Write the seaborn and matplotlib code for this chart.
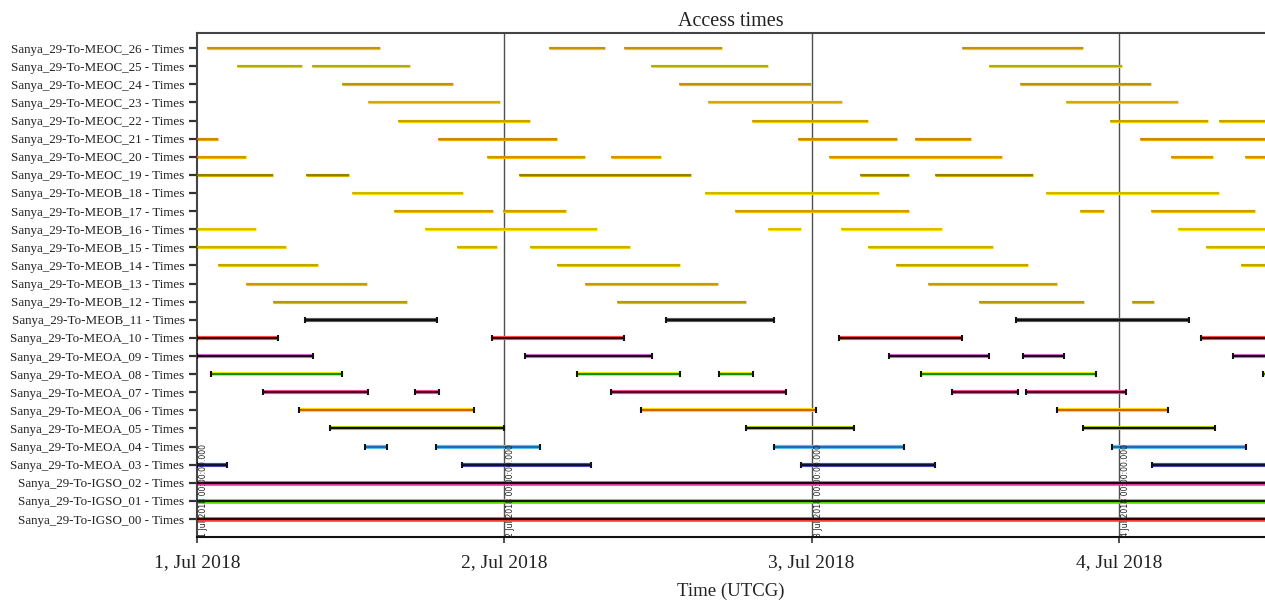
import matplotlib
matplotlib.use("Agg")
import matplotlib.pyplot as plt
import pandas as pd
import seaborn as sns

# ---------------- data (hours since 1 Jul 2018 00:00 UTCG) ----------------
rows = ["Sanya_29-To-IGSO_00 - Times", "Sanya_29-To-IGSO_01 - Times", "Sanya_29-To-IGSO_02 - Times",
        "Sanya_29-To-MEOA_03 - Times", "Sanya_29-To-MEOA_04 - Times", "Sanya_29-To-MEOA_05 - Times",
        "Sanya_29-To-MEOA_06 - Times", "Sanya_29-To-MEOA_07 - Times", "Sanya_29-To-MEOA_08 - Times",
        "Sanya_29-To-MEOA_09 - Times", "Sanya_29-To-MEOA_10 - Times", "Sanya_29-To-MEOB_11 - Times",
        "Sanya_29-To-MEOB_12 - Times", "Sanya_29-To-MEOB_13 - Times", "Sanya_29-To-MEOB_14 - Times",
        "Sanya_29-To-MEOB_15 - Times", "Sanya_29-To-MEOB_16 - Times", "Sanya_29-To-MEOB_17 - Times",
        "Sanya_29-To-MEOB_18 - Times", "Sanya_29-To-MEOC_19 - Times", "Sanya_29-To-MEOC_20 - Times",
        "Sanya_29-To-MEOC_21 - Times", "Sanya_29-To-MEOC_22 - Times", "Sanya_29-To-MEOC_23 - Times",
        "Sanya_29-To-MEOC_24 - Times", "Sanya_29-To-MEOC_25 - Times", "Sanya_29-To-MEOC_26 - Times"]

igso_00 = [(0, 86)]
igso_01 = [(0, 86)]
igso_02 = [(0, 86)]
meoa_03 = [(0, 2.34), (20.69, 30.77), (47.17, 57.63), (74.58, 86)]
meoa_04 = [(13.12, 14.84), (18.66, 26.79), (45.06, 55.21), (71.46, 81.92)]
meoa_05 = [(10.39, 23.97), (42.87, 51.31), (69.19, 79.50)]
meoa_06 = [(7.97, 21.63), (34.67, 48.34), (67.16, 75.83)]
meoa_07 = [(5.15, 13.35), (17.02, 18.90), (32.33, 46.00), (58.96, 64.12), (64.74, 72.55)]
meoa_08 = [(1.09, 11.32), (29.68, 37.72), (40.77, 43.42), (56.54, 70.21), (83.25, 86)]
meoa_09 = [(0, 9.06), (25.61, 35.53), (54.04, 61.85), (64.51, 67.71), (80.91, 86)]
meoa_10 = [(0, 6.33), (23.04, 33.35), (50.14, 59.74), (78.41, 86)]
meob_11 = [(8.43, 18.74), (36.63, 45.06), (63.96, 77.47)]
meob_12 = [(5.94, 16.40), (32.80, 42.87), (61.07, 69.27), (73.02, 74.74)]
meob_13 = [(3.83, 13.28), (30.30, 40.69), (57.09, 67.16)]
meob_14 = [(1.64, 9.45), (28.11, 37.72), (54.59, 64.90), (81.53, 86)]
meob_15 = [(0, 6.95), (20.30, 23.43), (26.00, 33.81), (52.40, 62.16), (78.80, 86)]
meob_16 = [(0, 4.61), (17.81, 31.24), (44.59, 47.17), (50.29, 58.18), (76.61, 86)]
meob_17 = [(15.38, 23.12), (23.90, 28.82), (42.01, 55.60), (68.96, 70.83), (74.50, 82.62)]
meob_18 = [(12.10, 20.77), (39.67, 53.26), (66.30, 79.81)]
meoc_19 = [(0, 5.93), (8.51, 11.87), (25.15, 38.58), (51.78, 55.60), (57.63, 65.29)]
meoc_20 = [(0, 3.83), (22.65, 30.30), (32.33, 36.24), (49.36, 62.86), (76.06, 79.34), (81.84, 86)]
meoc_21 = [(0, 1.64), (18.82, 28.11), (46.93, 54.67), (56.07, 60.45), (73.64, 86)]
meoc_22 = [(15.70, 26.00), (43.34, 52.40), (71.30, 78.95), (79.81, 86)]
meoc_23 = [(13.35, 23.66), (39.91, 50.37), (67.86, 76.61)]
meoc_24 = [(11.32, 19.99), (37.64, 47.95), (64.27, 74.50)]
meoc_25 = [(3.12, 8.20), (8.98, 16.63), (35.45, 44.59), (61.85, 72.24)]
meoc_26 = [(0.78, 14.29), (27.49, 31.86), (33.35, 41.00), (59.74, 69.19)]

segments = [igso_00, igso_01, igso_02, meoa_03, meoa_04, meoa_05, meoa_06, meoa_07, meoa_08,
            meoa_09, meoa_10, meob_11, meob_12, meob_13, meob_14, meob_15, meob_16, meob_17,
            meob_18, meoc_19, meoc_20, meoc_21, meoc_22, meoc_23, meoc_24, meoc_25, meoc_26]

day_ticks = [0, 24, 48, 72]
day_labels = ["1, Jul 2018", "2, Jul 2018", "3, Jul 2018", "4, Jul 2018"]
stamp_labels = ["1 Jul 2018 00:00:00.000", "2 Jul 2018 00:00:00.000",
                "3 Jul 2018 00:00:00.000", "4 Jul 2018 00:00:00.000"]

# outer (halo) and inner (core) colours per row, bottom to top
halo = ["#ff3a3a", "#50e000", "#e040a0", "#4050c0", "#60c0f0", "#b0d000", "#ffe000",
        "#f050a0", "#e8f000", "#d070d0", "#ff5050", "#606060",
        "#d8c000", "#e8c000", "#e8c800", "#f0d000", "#f8e000", "#f0c000", "#f0d800",
        "#d0b000", "#f0b800", "#e8a800", "#f0c800", "#f0d000", "#e8b800", "#e0e000", "#e8c800"]
core = ["#300000", "#102000", "#200010", "#101030", "#1870b0", "#101000", "#d06000",
        "#500018", "#109010", "#200020", "#3a0000", "#101010",
        "#a89000", "#c09000", "#b89800", "#c8a000", "#d0b000", "#c89000", "#c8a800",
        "#8c7000", "#c88800", "#c08000", "#c09000", "#c8a000", "#b88a00", "#a0a000", "#b08800"]

# ---------------- build long table ----------------
recs = []
for i, (name, segs) in enumerate(zip(rows, segments)):
    grp = "igso" if "IGSO" in name else ("cap" if ("MEOA" in name or "MEOB_11" in name) else "thin")
    for j, (s, e) in enumerate(segs):
        for t in (s, e):
            recs.append({"row": name, "y": i, "t": t, "seg": f"{i}_{j}", "grp": grp})
df = pd.DataFrame(recs)

halo_pal = dict(zip(rows, halo))
core_pal = dict(zip(rows, core))

sns.set_theme(style="white")
plt.rcParams["font.family"] = ["Liberation Serif", "DejaVu Serif"]

fig = plt.figure(figsize=(12.65, 6.01), dpi=100)
ax = fig.add_axes([197 / 1265, 1 - 537 / 601, 1 - 197 / 1265, (537 - 33) / 601])

for d in day_ticks[1:]:
    ax.axvline(d, color="#505050", lw=1.0, zorder=1)

widths = {"thin": (2.3, 1.1), "cap": (3.0, 1.5), "igso": (3.3, 1.5)}
for grp, (wh, wc) in widths.items():
    sub = df[df["grp"] == grp]
    present = set(sub["row"])
    sns.lineplot(data=sub, x="t", y="y", hue="row", units="seg", estimator=None, sort=False,
                 palette={k: v for k, v in halo_pal.items() if k in present},
                 linewidth=wh, legend=False, ax=ax, zorder=2, solid_capstyle="butt")
    n_before = len(ax.lines)
    extra = dict(marker="|", markersize=5, markeredgewidth=1.5) if grp == "cap" else {}
    sns.lineplot(data=sub, x="t", y="y", hue="row", units="seg", estimator=None, sort=False,
                 palette={k: v for k, v in core_pal.items() if k in present},
                 linewidth=wc, legend=False, ax=ax, zorder=3, solid_capstyle="butt", **extra)
    if grp == "cap":
        for ln in ax.lines[n_before:]:
            ln.set_markeredgecolor("#111111")

for d, lab in zip(day_ticks, stamp_labels):
    ax.text(d + 0.15, -0.97, lab, rotation=90, fontsize=5.6, va="bottom", ha="left",
            family="DejaVu Sans", color="#222222", zorder=4)

ax.set_xlim(0, 83.4)
ax.set_ylim(-0.99, 26.83)
ax.set_yticks(range(len(rows)))
ax.set_yticklabels(rows, fontsize=9.4, color="#222222")
ax.set_xticks(day_ticks)
ax.set_xticklabels(day_labels, fontsize=14, color="#222222")
ax.tick_params(axis="y", which="both", left=True, length=6, width=1.6, color="#333333", pad=3)
ax.tick_params(axis="x", which="both", bottom=True, length=4, width=1.2, color="#333333", pad=8)
ax.set_xlabel("Time (UTCG)", fontsize=13.5, color="#222222", labelpad=9)
ax.set_ylabel("")
ax.set_title("Access times", fontsize=14.5, color="#222222", pad=5)

for side in ["left", "top", "bottom"]:
    ax.spines[side].set_visible(True)
    ax.spines[side].set_color("#444444")
    ax.spines[side].set_linewidth(1.5)
ax.spines["bottom"].set_color("#111111")
ax.spines["right"].set_visible(False)

fig.savefig("out.png", dpi=100)
